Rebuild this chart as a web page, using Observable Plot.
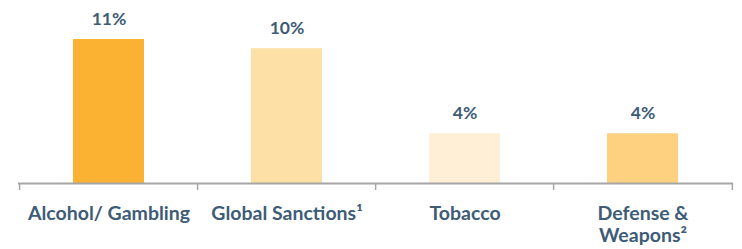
<!DOCTYPE html>
<html>
<head>
<meta charset="utf-8">
<script src="https://cdn.jsdelivr.net/npm/d3@7"></script>
<script src="https://cdn.jsdelivr.net/npm/@observablehq/plot@0.6"></script>
<style>
  html, body { margin: 0; padding: 0; background: #fff; }
  #chart svg { display: block; }
</style>
</head>
<body>
<div id="chart"></div>
<script>
const categories = ["Alcohol/ Gambling", "Global Sanctions", "Tobacco", "Defense & Weapons"];
const tickLabels = ["Alcohol/ Gambling", "Global Sanctions\u00b9", "Tobacco", "Defense &\nWeapons\u00b2"];
const values = [11, 10.3, 3.8, 3.8];
const valueLabels = ["11%", "10%", "4%", "4%"];
const colors = ["#FBB232", "#FDE0A6", "#FEEFD6", "#FDD17F"];

const width = 742, height = 249;
const marginLeft = 18, marginRight = 9;
const step = (width - marginLeft - marginRight) / categories.length;
const textColor = "#3E5C76";
const axisColor = "#A6A6A6";

const data = categories.map((c, i) => ({cat: c, value: values[i], label: valueLabels[i], tick: tickLabels[i], color: colors[i]}));

const chart = Plot.plot({
  width, height,
  marginLeft, marginRight,
  marginTop: 39, marginBottom: 66,
  x: {domain: categories, paddingInner: 0.6, paddingOuter: 0.3, axis: null},
  y: {domain: [0, 11], axis: null},
  marks: [
    Plot.barY(data, {x: "cat", y: "value", fill: "color"}),
    Plot.ruleY([0], {stroke: axisColor, strokeWidth: 2}),
    Plot.ruleX(data, {x: "cat", y1: 0, y2: 0, insetBottom: -7, dx: -step / 2, stroke: axisColor, strokeWidth: 1.5}),
    Plot.ruleX(data.slice(-1), {x: "cat", y1: 0, y2: 0, insetBottom: -7, dx: step / 2, stroke: axisColor, strokeWidth: 1.5}),
    Plot.text(data, {x: "cat", y: "value", text: "label", dy: -20, fill: textColor, fontSize: 17.5, fontWeight: "bold", fontFamily: "Lato"}),
    Plot.text(data, {x: "cat", y: 0, text: "tick", lineAnchor: "top", dy: 21, lineHeight: 1.13, fill: textColor, fontSize: 19.5, fontWeight: "bold", fontFamily: "Lato"})
  ]
});
document.getElementById("chart").appendChild(chart);
</script>
</body>
</html>
